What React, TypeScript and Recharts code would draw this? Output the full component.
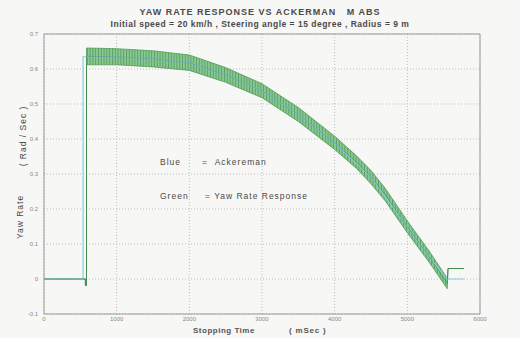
import React from 'react'
import {
  Area,
  CartesianGrid,
  ComposedChart,
  Line,
  ReferenceLine,
  XAxis,
  YAxis
} from 'recharts'

// stopping time (ms) and yaw rate (rad/s)
const blueTime = [0, 538, 538, 1000, 1500, 2000, 2500, 3000, 3500, 4000, 4500, 5000, 5300, 5545, 5780]
const blueValue = [0, 0, 0.635, 0.635, 0.629, 0.618, 0.583, 0.538, 0.47, 0.389, 0.291, 0.149, 0.064, 0, 0]

const greenTime = [0, 570, 570, 585, 585, 1000, 1500, 2000, 2500, 3000, 3500, 4000, 4300, 4500, 4700, 5000, 5300, 5550, 5560, 5780]
const greenLow = [0, 0, -0.018, -0.018, 0.612, 0.612, 0.606, 0.596, 0.562, 0.518, 0.45, 0.37, 0.316, 0.272, 0.222, 0.132, 0.048, -0.028, 0.03, 0.03]
const greenHigh = [0, 0, -0.018, -0.018, 0.66, 0.658, 0.652, 0.64, 0.604, 0.558, 0.49, 0.408, 0.352, 0.31, 0.258, 0.166, 0.08, 0.002, 0.03, 0.03]

const xTicks = [0, 1000, 2000, 3000, 4000, 5000, 6000]
const yTicks = [-0.1, 0, 0.1, 0.2, 0.3, 0.4, 0.5, 0.6, 0.7]

const blueData = blueTime.map((t, i) => ({ t, v: blueValue[i] }))
const greenData = greenTime.map((t, i) => ({
  t,
  band: [greenLow[i], greenHigh[i]],
  mid: (greenLow[i] + greenHigh[i]) / 2
}))

const font = '"Liberation Sans", Arial, sans-serif'
const tickStyle = { fontSize: 6, fill: '#8a8a8a', fontFamily: font }

const textStyle: React.CSSProperties = {
  position: 'absolute',
  fontFamily: font,
  color: '#4a4a4a',
  whiteSpace: 'nowrap',
  lineHeight: 1
}

export default function App() {
  return (
    <div style={{ position: 'absolute', left: 0, top: 0, width: 520, height: 338, background: '#f7f7f5' }}>
      <ComposedChart width={520} height={338} margin={{ top: 34, right: 40, bottom: 12, left: 0 }}>
        <defs>
          <pattern id="hatch" width="2.8" height="4" patternUnits="userSpaceOnUse">
            <rect width="2.8" height="4" fill="#80c987" />
            <rect width="0.8" height="4" fill="#4f8f5a" />
          </pattern>
        </defs>
        <CartesianGrid stroke="#bdbdbd" strokeDasharray="1 2" />
        <XAxis
          type="number"
          dataKey="t"
          domain={[0, 6000]}
          ticks={xTicks}
          allowDataOverflow
          height={12}
          tick={tickStyle}
          tickLine={false}
          tickSize={2}
          tickMargin={1}
          axisLine={{ stroke: '#9a9a9a' }}
        />
        <YAxis
          type="number"
          domain={[-0.1, 0.7]}
          ticks={yTicks}
          allowDataOverflow
          width={44}
          tick={tickStyle}
          tickLine={false}
          tickSize={2}
          tickMargin={4}
          tickFormatter={(v) => String(v)}
          axisLine={{ stroke: '#9a9a9a' }}
        />
        <ReferenceLine y={0.7} stroke="#9a9a9a" />
        <ReferenceLine x={6000} stroke="#9a9a9a" />
        <Line
          data={blueData}
          dataKey="v"
          type="linear"
          stroke="#86cde6"
          strokeWidth={1.2}
          dot={false}
          isAnimationActive={false}
        />
        <Area
          data={greenData}
          dataKey="band"
          type="linear"
          stroke="#4f9a5a"
          strokeWidth={0.8}
          fill="url(#hatch)"
          fillOpacity={0.95}
          isAnimationActive={false}
        />
        <Line
          data={greenData}
          dataKey="mid"
          type="linear"
          stroke="#2f5f38"
          strokeWidth={0.7}
          strokeOpacity={0.5}
          dot={false}
          isAnimationActive={false}
        />
      </ComposedChart>

      <div style={{ ...textStyle, left: 0, width: 520, top: 8, textAlign: 'center', fontSize: 9, fontWeight: 'bold', letterSpacing: 1 }}>
        YAW RATE RESPONSE VS ACKERMAN&nbsp;&nbsp;&nbsp;M ABS
      </div>
      <div style={{ ...textStyle, left: 0, width: 520, top: 20, textAlign: 'center', fontSize: 8.5, fontWeight: 'bold', letterSpacing: 0.5 }}>
        Initial speed = 20 km/h , Steering angle = 15 degree , Radius = 9 m
      </div>

      <div style={{ ...textStyle, left: 160, top: 158, fontSize: 8.5, letterSpacing: 1 }}>Blue</div>
      <div style={{ ...textStyle, left: 202, top: 158, fontSize: 8.5, letterSpacing: 1 }}>=&nbsp;&nbsp;Ackereman</div>
      <div style={{ ...textStyle, left: 160, top: 192, fontSize: 8.5, letterSpacing: 1 }}>Green</div>
      <div style={{ ...textStyle, left: 205, top: 192, fontSize: 8.5, letterSpacing: 1 }}>= Yaw Rate Response</div>

      <div style={{ ...textStyle, left: 20, top: 217, fontSize: 8.5, letterSpacing: 1, transform: 'translate(-50%, -50%) rotate(-90deg)' }}>
        Yaw Rate
      </div>
      <div style={{ ...textStyle, left: 23, top: 136, fontSize: 8.5, letterSpacing: 1, transform: 'translate(-50%, -50%) rotate(-90deg)' }}>
        ( Rad / Sec )
      </div>

      <div style={{ ...textStyle, left: 193, top: 327, fontSize: 8, fontWeight: 'bold', letterSpacing: 0.5, color: '#555' }}>Stopping Time</div>
      <div style={{ ...textStyle, left: 289, top: 327, fontSize: 8, fontWeight: 'bold', letterSpacing: 0.8, color: '#555' }}>( mSec )</div>
    </div>
  )
}
